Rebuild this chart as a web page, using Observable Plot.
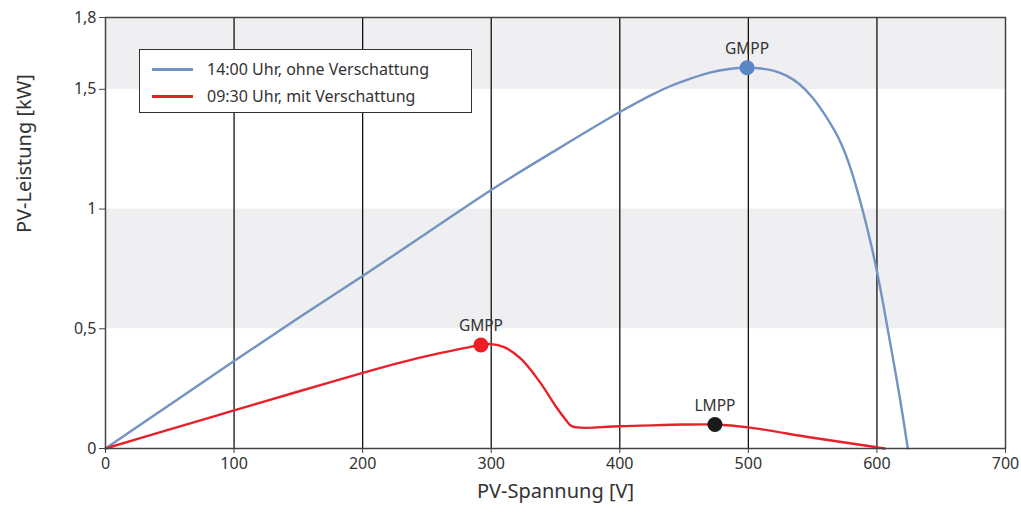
<!DOCTYPE html>
<html>
<head>
<meta charset="utf-8">
<script src="https://cdn.jsdelivr.net/npm/d3@7"></script>
<script src="https://cdn.jsdelivr.net/npm/@observablehq/plot@0.6"></script>
<style>
  html, body { margin: 0; padding: 0; background: #fff; }
  #wrap { position: relative; width: 1021px; height: 514px; font-family: "Noto Sans", sans-serif; color: #333; }
  #legend { position: absolute; left: 139px; top: 49px; width: 331px; height: 62px; border: 1.5px solid #333; background: #fff; box-sizing: content-box; }
  .row { position: absolute; left: 12px; height: 26px; display: flex; align-items: center; font-size: 16px; }
  .sw { width: 41px; height: 3px; margin-right: 14px; }
</style>
</head>
<body>
<div id="wrap"></div>
<script>
// ---- data ----
const blueV = [0, 50, 100, 150, 200, 250, 300, 350, 400, 424, 440, 455, 470, 485, 499, 510, 520, 530, 540, 550, 560, 565, 570, 575, 580, 585, 590, 595, 600, 605, 610, 615, 620, 624];
const blueP = [0, 0.183, 0.365, 0.545, 0.72, 0.9, 1.08, 1.245, 1.405, 1.475, 1.515, 1.545, 1.57, 1.585, 1.59, 1.587, 1.577, 1.556, 1.52, 1.465, 1.39, 1.346, 1.298, 1.237, 1.162, 1.072, 0.972, 0.862, 0.74, 0.6, 0.45, 0.3, 0.14, 0];
const redV = [0, 50, 100, 150, 200, 230, 260, 280, 292, 300, 310, 323, 338, 351, 358, 363, 400, 450, 474, 500, 550, 600, 606];
const redP = [0, 0.08, 0.159, 0.238, 0.316, 0.36, 0.398, 0.42, 0.432, 0.436, 0.423, 0.375, 0.276, 0.17, 0.12, 0.092, 0.093, 0.1, 0.1, 0.088, 0.045, 0.005, 0];
const pointNames = ["GMPP", "GMPP", "LMPP"];
const pointV = [499, 292, 474];
const pointP = [1.59, 0.432, 0.1];
const pointColors = ["#5b86c6", "#ee1c25", "#1a1a1a"];
const seriesNames = ["14:00 Uhr, ohne Verschattung", "09:30 Uhr, mit Verschattung"];
const seriesColors = ["#7393c2", "#e8202a"];
const bandLow = [0.5, 1.5];
const bandHigh = [1.0, 1.8];
const xTicks = [0, 100, 200, 300, 400, 500, 600, 700];
const yTicks = [0, 0.5, 1, 1.5, 1.8];
const gridX = [100, 200, 300, 400, 500, 600];
const xLabel = "PV-Spannung [V]";
const yLabel = "PV-Leistung [kW]";

const blue = blueV.map((v, i) => ({v, p: blueP[i]}));
const red = redV.map((v, i) => ({v, p: redP[i]}));
const pts = pointV.map((v, i) => ({v, p: pointP[i], name: pointNames[i], color: pointColors[i]}));
const bands = bandLow.map((lo, i) => ({lo, hi: bandHigh[i]}));
const fmt = d => String(d).replace(".", ",");

const chart = Plot.plot({
  width: 1021,
  height: 514,
  marginLeft: 105,
  marginRight: 16,
  marginTop: 17,
  marginBottom: 66,
  style: {fontFamily: "'Noto Sans', sans-serif", color: "#333", background: "#fff"},
  x: {domain: [0, 700]},
  y: {domain: [0, 1.8]},
  marks: [
    Plot.rect(bands, {x1: 0, x2: 700, y1: "lo", y2: "hi", fill: "#efeff1"}),
    Plot.ruleX(gridX, {stroke: "#111", strokeWidth: 1.3}),
    Plot.line(blue, {x: "v", y: "p", stroke: seriesColors[0], strokeWidth: 2.4, curve: "catmull-rom"}),
    Plot.line(red, {x: "v", y: "p", stroke: seriesColors[1], strokeWidth: 2.4, curve: "catmull-rom"}),
    Plot.frame({stroke: "#444", strokeWidth: 1.5}),
    Plot.axisX({ticks: xTicks, tickSize: 5, tickPadding: 4, fontSize: 16, tickFormat: fmt, label: null, stroke: "#444"}),
    Plot.axisY({ticks: yTicks, tickSize: 6, tickPadding: 3, fontSize: 16, tickFormat: fmt, label: null, stroke: "#444"}),
    Plot.dot(pts, {x: "v", y: "p", r: 7.5, fill: "color", stroke: "none"}),
    Plot.text(pts, {x: "v", y: "p", text: "name", dy: -19, fontSize: 15.5, fill: "#333"}),
    Plot.text([xLabel], {frameAnchor: "bottom", dy: 49, fontSize: 20, fill: "#333"}),
    Plot.text([yLabel], {frameAnchor: "left", dx: -81, rotate: -90, fontSize: 20, fill: "#333"})
  ]
});

const wrap = document.getElementById("wrap");
wrap.appendChild(chart);

const legend = document.createElement("div");
legend.id = "legend";
seriesNames.forEach((name, i) => {
  const row = document.createElement("div");
  row.className = "row";
  row.style.top = (6 + i * 27) + "px";
  const sw = document.createElement("div");
  sw.className = "sw";
  sw.style.background = seriesColors[i];
  const t = document.createElement("span");
  t.textContent = name;
  row.appendChild(sw);
  row.appendChild(t);
  legend.appendChild(row);
});
wrap.appendChild(legend);
</script>
</body>
</html>
